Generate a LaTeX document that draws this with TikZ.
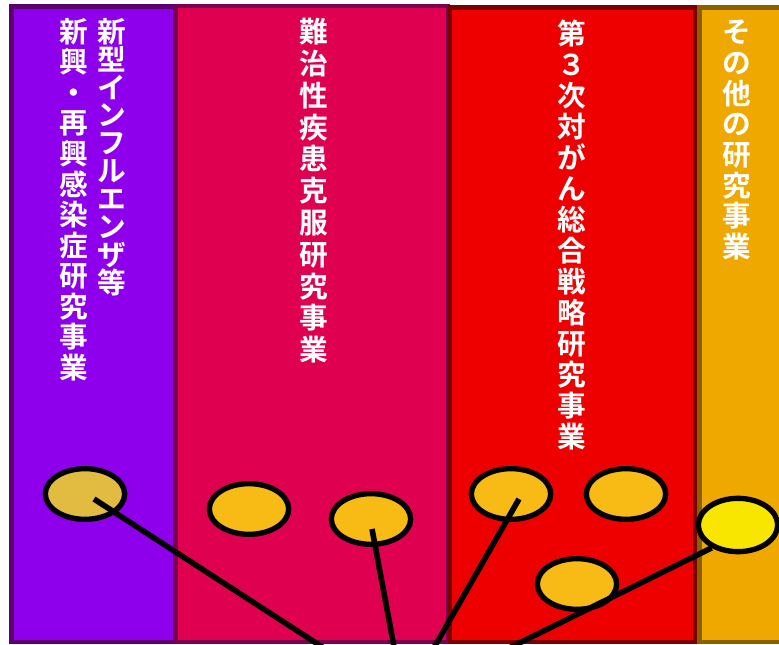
\documentclass[tikz,border=0pt]{standalone}
\usepackage{fontspec}
\newfontfamily\jp{Noto Sans CJK JP}[BoldFont={Noto Sans CJK JP Bold}]
\usetikzlibrary{shapes.geometric,calc}

\definecolor{inflfill}{HTML}{8E00EC}
\definecolor{inflline}{HTML}{5C0070}
\definecolor{nanbfill}{HTML}{E00050}
\definecolor{nanbline}{HTML}{7A0050}
\definecolor{ganfill}{HTML}{EE0000}
\definecolor{ganline}{HTML}{7A0000}
\definecolor{sonofill}{HTML}{EEA800}
\definecolor{sonoline}{HTML}{8A6000}
\definecolor{spotmustard}{HTML}{E2BC40}
\definecolor{spotorange}{HTML}{F8BA14}
\definecolor{spotyellow}{HTML}{F9E600}

\begin{document}
\begin{tikzpicture}[line join=miter,x=0.75pt,y=-0.75pt,
	spot/.style={ellipse,draw=black,line width=4pt,minimum width=59.5pt,minimum height=38pt,inner sep=0pt},
	vlabel/.style={text=white,align=center,inner sep=0pt,anchor=north,font=\jp\bfseries\fontsize{21.5}{#1}\selectfont},
	link/.style={line width=4.2pt,draw=black}]

		\clip (0,0) rectangle (779,645);

		%saraketta
		\foreach \xa/\xb/\ya/\nm in {11.5/175/6.5/infl, 176/448/6/nanb, 450/695/7.5/gan, 699.5/790/7.5/sono}
		{\filldraw[line width=3.5pt, draw=\nm line, fill=\nm fill] (\xa,\ya) rectangle (\xb,642);
		}

		%otsikot
		\node[vlabel=20.9] (inflTitle) at (112,18) {新\\型\\イ\\ン\\フ\\ル\\エ\\ン\\ザ\\等};
		\node[vlabel=22.9] (shinkoTitle) at (74,18) {新\\興\\・\\再\\興\\感\\染\\症\\研\\究\\事\\業};
		\node[vlabel=23.85] (nanbyoTitle) at (314,18) {難\\治\\性\\疾\\患\\克\\服\\研\\究\\事\\業};
		\node[vlabel=23.25] (ganTitle) at (572,20) {第\\３\\次\\対\\が\\ん\\総\\合\\戦\\略\\研\\究\\事\\業};
		\node[vlabel=23] (sonotaTitle) at (737,20) {そ\\の\\他\\の\\研\\究\\事\\業};

		% pallot
		\node[spot, fill=spotmustard] (influ) at (85,494) {};
		\node[spot, fill=spotorange] (nanbyoA) at (249,509) {};
		\node[spot, fill=spotorange] (nanbyoB) at (371,519) {};
		\node[spot, fill=spotorange] (ganA) at (511,494) {};
		\node[spot, fill=spotorange] (ganB) at (626,494) {};
		\node[spot, fill=spotorange] (ganC) at (577,584) {};
		\node[spot, fill=spotyellow, minimum height=40pt] (sonota) at (738,525) {};

		% viivat
		\coordinate (hub) at (404,700);
		\draw[link] (hub) -- ([shift={(9,5)}]influ.center);
		\draw[link] (hub) -- ([shift={(1,10)}]nanbyoB.center);
		\draw[link] (hub) -- ([shift={(8,5)}]ganA.center);
		\draw[link] (hub) -- (sonota.221);

	\end{tikzpicture}
\end{document}
